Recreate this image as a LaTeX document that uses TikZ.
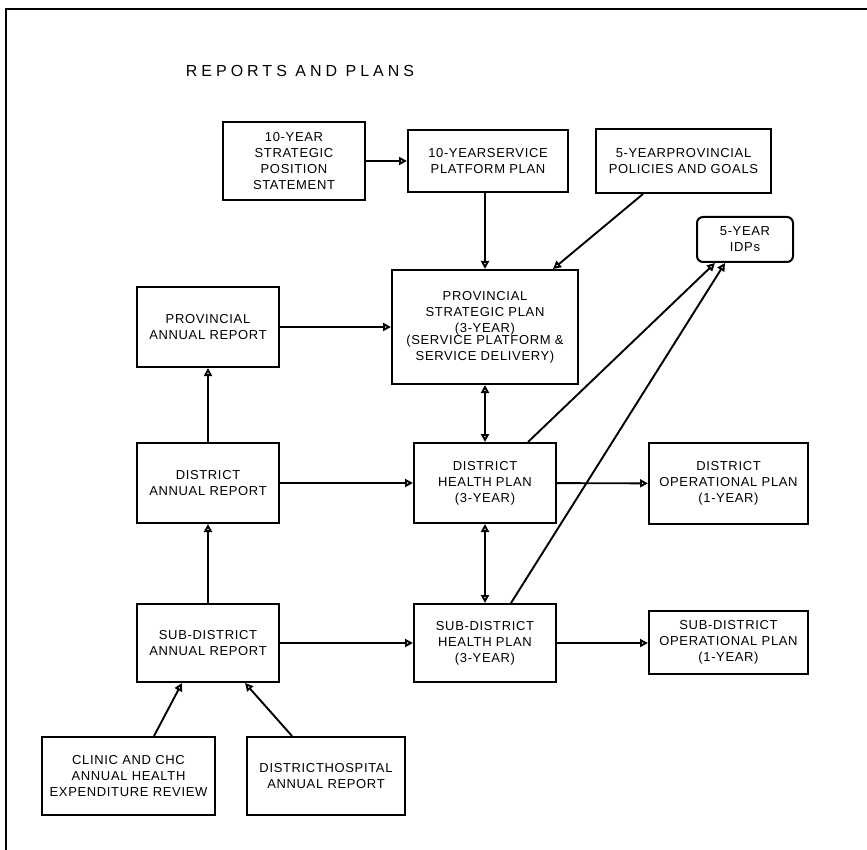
\documentclass[tikz,border=0pt]{standalone}
\usepackage{fontspec}
\setmainfont{Liberation Sans}
\usetikzlibrary{arrows.meta}
\tikzset{
  box/.style={draw, line width=2pt, align=center, inner sep=0pt,
    font=\fontsize{13}{16}\selectfont\addfontfeature{LetterSpace=5}},
  tip/.style={-{Triangle[open, length=8pt, width=8pt]}}
}
\begin{document}
\begin{tikzpicture}[x=1pt, y=-1pt, line width=1.9pt]
      \useasboundingbox (0,0) rectangle (867,850);
      \draw (6,850) -- (6,9) -- (867,9);
      \node (title) at (300,71)
        {\fontsize{16}{18}\selectfont\addfontfeature{LetterSpace=25}REPORTS AND PLANS};
      \node[box, minimum width=142pt, minimum height=78pt] (ten) at (294,161)
        {10-YEAR\\STRATEGIC\\POSITION\\STATEMENT};
      \node[box, minimum width=160pt, minimum height=62pt] (svc) at (488,161)
        {10-YEARSERVICE\\PLATFORM PLAN};
      \node[box, minimum width=175pt, minimum height=64pt] (five) at (683.5,161)
        {5-YEARPROVINCIAL\\POLICIES AND GOALS};
      \node[box, rounded corners=6pt, minimum width=96pt, minimum height=45pt] (idp) at (745,239.5)
        {5-YEAR\\IDPs};
      \node[box, minimum width=186pt, minimum height=114pt] (psp) at (485,327)
        {PROVINCIAL\\STRATEGIC PLAN\\(3-YEAR)\\[-4pt](SERVICE PLATFORM \&\\SERVICE DELIVERY)};
      \node[box, minimum width=142pt, minimum height=80pt] (par) at (208,327)
        {PROVINCIAL\\ANNUAL REPORT};
      \node[box, minimum width=142pt, minimum height=80pt] (dar) at (208,483)
        {DISTRICT\\ANNUAL REPORT};
      \node[box, minimum width=142pt, minimum height=80pt] (dhp) at (485,483)
        {DISTRICT\\HEALTH PLAN\\(3-YEAR)};
      \node[box, minimum width=159pt, minimum height=81pt] (dop) at (728.5,483.5)
        {DISTRICT\\OPERATIONAL PLAN\\(1-YEAR)};
      \node[box, minimum width=142pt, minimum height=78pt] (sar) at (208,643)
        {SUB-DISTRICT\\ANNUAL REPORT};
      \node[box, minimum width=142pt, minimum height=78pt] (shp) at (485,643)
        {SUB-DISTRICT\\HEALTH PLAN\\(3-YEAR)};
      \node[box, minimum width=159pt, minimum height=63pt] (sop) at (728.5,642.5)
        {SUB-DISTRICT\\OPERATIONAL PLAN\\(1-YEAR)};
      \node[box, minimum width=173pt, minimum height=78pt] (clinic) at (128.5,776)
        {CLINIC AND CHC\\ANNUAL HEALTH\\EXPENDITURE REVIEW};
      \node[box, minimum width=158pt, minimum height=78pt] (hosp) at (326,776)
        {DISTRICTHOSPITAL\\ANNUAL REPORT};
      \begin{scope}[tip]
        \draw (ten) to (svc);
        \draw (svc.south -| psp.north) to (psp.north);
        \draw ([xshift=-40.5pt]five.south) to ([xshift=68pt]psp.north);
        \draw (par) to (psp.west |- par.east);
        \draw (dar) to (par);
        \draw (dar) to (dhp);
        \draw (dhp) to (dop);
        \draw ([xshift=43pt]dhp.north) to ([xshift=-30pt]idp.south);
        \draw ([xshift=26pt]shp.north) to ([xshift=-20pt]idp.south);
        \draw (sar) to (dar);
        \draw (sar) to (shp);
        \draw (shp) to (sop.west |- shp.east);
        \draw ([xshift=25.5pt]clinic.north) to ([xshift=-26pt]sar.south);
        \draw ([xshift=-34pt]hosp.north) to ([xshift=37pt]sar.south);
      \end{scope}
      \begin{scope}[{Triangle[open, length=8pt, width=8pt]}-{Triangle[open, length=8pt, width=8pt]}]
        \draw (psp) to (dhp);
        \draw (dhp) to (shp);
      \end{scope}
    \end{tikzpicture}
\end{document}
